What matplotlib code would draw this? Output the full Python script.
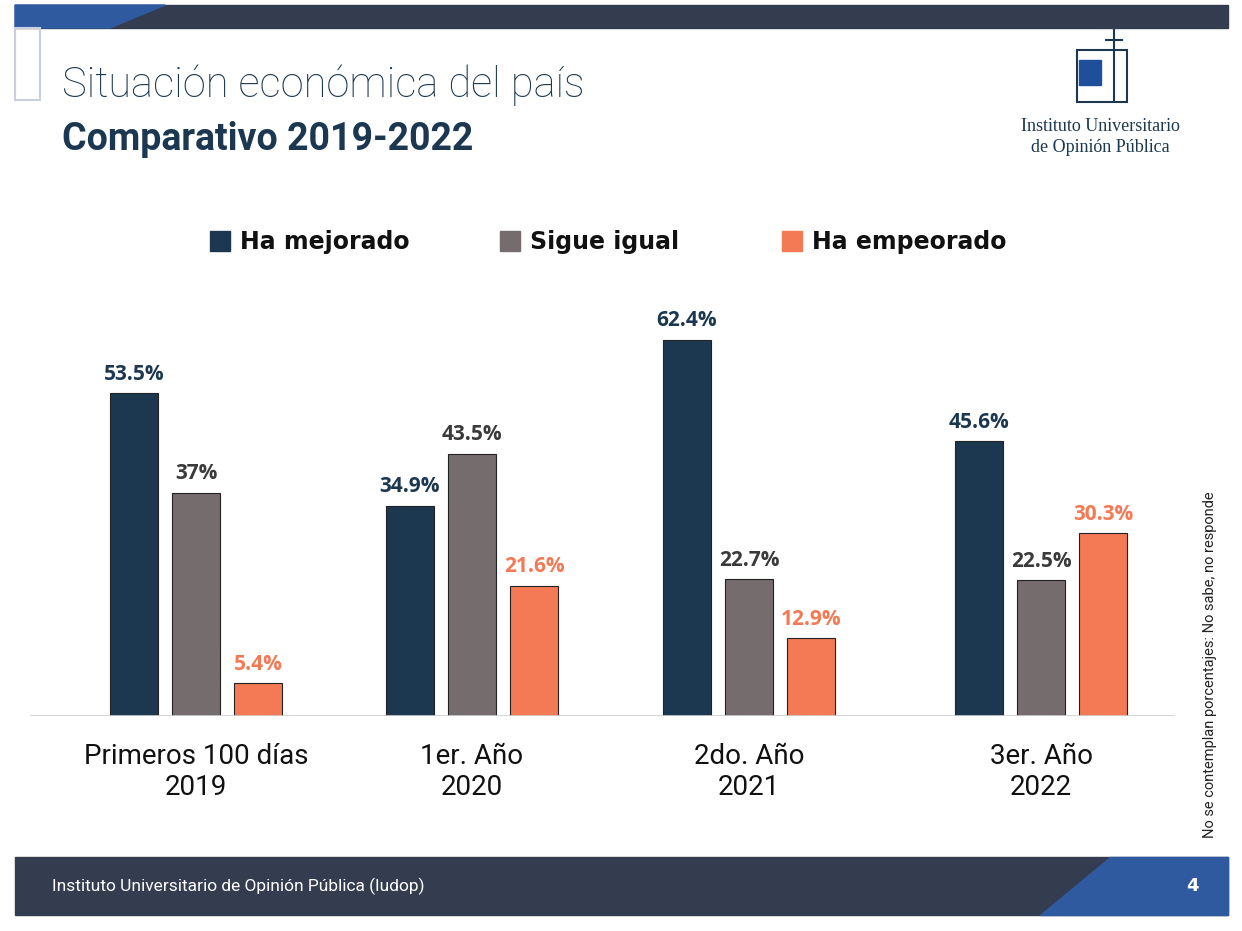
import matplotlib.pyplot as plt
from matplotlib.patches import Rectangle, Polygon

categories = ['Primeros 100 días\n2019', '1er. Año\n2020', '2do. Año\n2021', '3er. Año\n2022']
series = ['Ha mejorado', 'Sigue igual', 'Ha empeorado']
mejorado = [53.5, 34.9, 62.4, 45.6]
igual = [37, 43.5, 22.7, 22.5]
empeorado = [5.4, 21.6, 12.9, 30.3]
labels = [['53.5%', '34.9%', '62.4%', '45.6%'],
          ['37%', '43.5%', '22.7%', '22.5%'],
          ['5.4%', '21.6%', '12.9%', '30.3%']]

navy = '#1c3850'
gray = '#756d6d'
orange = '#f47a55'
colors = [navy, gray, orange]
label_colors = [navy, '#3a3a3a', orange]

W, H = 1242, 931
fig = plt.figure(figsize=(W/100, H/100), dpi=100)
bg = fig.add_axes([0, 0, 1, 1])
bg.set_xlim(0, W); bg.set_ylim(H, 0); bg.axis('off')

# header / footer decorations
bg.add_patch(Rectangle((15, 5), 1213, 23, color='#333d4f'))
bg.add_patch(Polygon([[15, 5], [165, 5], [110, 28], [15, 28]], color='#2f5aa0'))
bg.add_patch(Rectangle((15, 28), 25, 72, facecolor='none', edgecolor='#c8d0e0', lw=1.5))
bg.add_patch(Rectangle((15, 857), 1213, 58, color='#333d4f'))
bg.add_patch(Polygon([[1110, 857], [1228, 857], [1228, 915], [1040, 915]], color='#2f5aa0'))
bg.text(62, 97, 'Situación económica del país', fontsize=30, family='Roboto',
        fontweight='light', color='#1c3850', va='baseline')
bg.text(62, 150, 'Comparativo 2019-2022', fontsize=27, family='Roboto',
        fontweight='bold', color='#1c3850', va='baseline')
bg.text(52, 886, 'Instituto Universitario de Opinión Pública (Iudop)', fontsize=12.5,
        family='Roboto', color='white', va='center')
bg.text(1192, 886, '4', fontsize=13, fontweight='bold', color='white', va='center', ha='center')
bg.text(1210, 665, 'No se contemplan porcentajes: No sabe, no responde', rotation=90,
        fontsize=10.5, family='Roboto', color='#222', ha='center', va='center')
# logo
bg.add_patch(Rectangle((1077, 50), 50, 52, facecolor='none', edgecolor=navy, lw=1.5))
bg.add_patch(Rectangle((1079, 60), 22, 25, color='#1f4f9a'))
bg.plot([1114, 1114], [30, 100], color=navy, lw=1.5)
bg.plot([1106, 1122], [40, 40], color=navy, lw=1.5)
bg.text(1100, 137, 'Instituto Universitario\nde Opinión Pública', family='Liberation Serif',
        fontsize=13, color=navy, ha='center', va='center', linespacing=1.3)

# legend
for x, name, c in zip([210, 500, 782], series, colors):
    bg.add_patch(Rectangle((x, 231), 20, 20, color=c))
    bg.text(x + 30, 242, name, fontsize=17, fontweight='bold', family='DejaVu Sans',
            color='#111', va='center')

# chart
top, base, left, right = 300, 716, 30, 1175
ax = fig.add_axes([left/W, (H-base)/H, (right-left)/W, (base-top)/H])
ax.set_xlim(left, right)
ax.set_ylim(0, (base-top)/6.03)
ax.axis('off')
ax.axhline(0, color='#d0d0d0', lw=1.2)

centers = [196, 472, 749, 1041]
offs = [-62, 0, 62]
bw = 48
for si, vals in enumerate([mejorado, igual, empeorado]):
    xs = [c + offs[si] for c in centers]
    ax.bar(xs, vals, width=bw, color=colors[si], edgecolor='#222', lw=0.8)
    for x, v, t in zip(xs, vals, labels[si]):
        ax.text(x, v + 1.4, t, ha='center', va='bottom', fontsize=15, fontweight='bold',
                family='Open Sans', color=label_colors[si])

for c, cat in zip(centers, categories):
    bg.text(c, 772, cat, ha='center', va='center', fontsize=20, family='Roboto',
            color='#111', linespacing=1.2)

fig.savefig('out.png', dpi=100)
